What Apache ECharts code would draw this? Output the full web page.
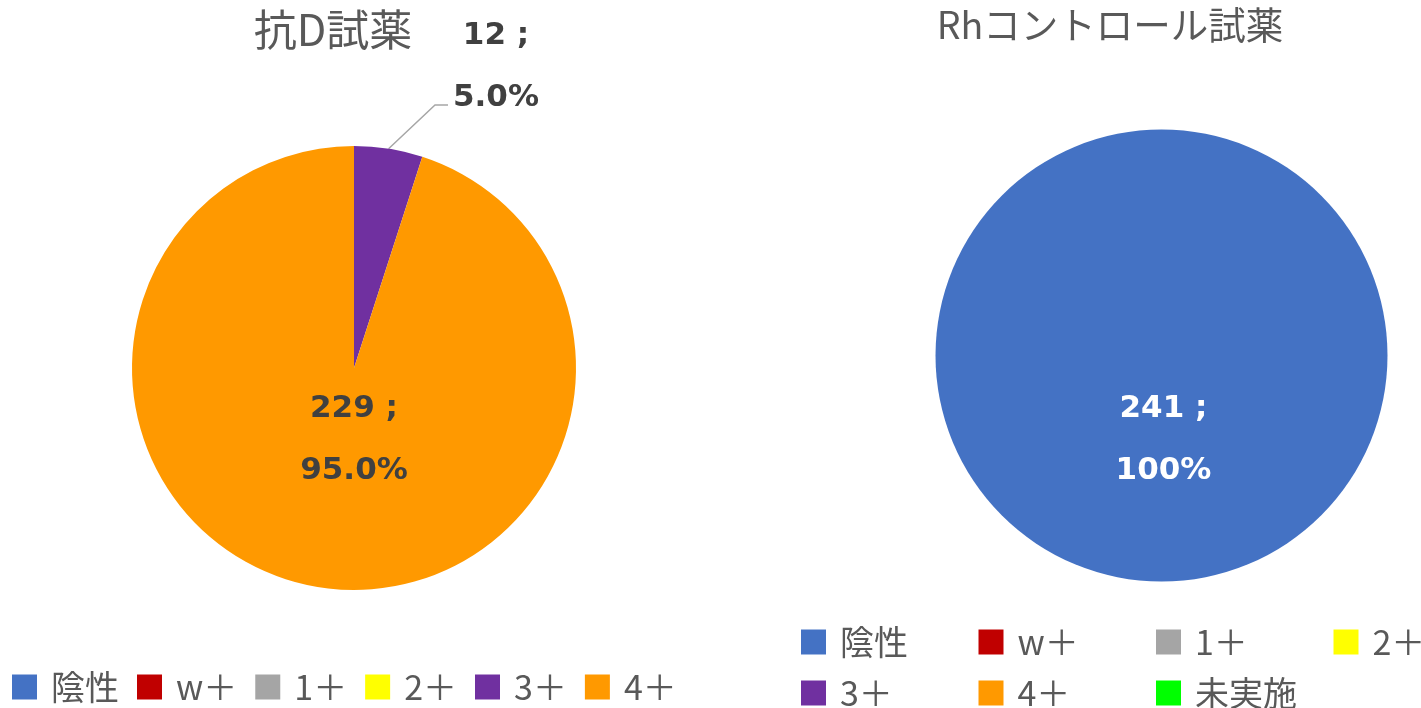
<!DOCTYPE html>
<html>
<head>
<meta charset="utf-8">
<script src="https://cdn.jsdelivr.net/npm/echarts@6/dist/echarts.min.js"></script>
<style>
    html, body { margin: 0; padding: 0; background: #fff; }
    #chart { width: 1421px; height: 708px; }
</style>
</head>
<body>
<div id="chart"></div>
<script>
// data
const categories = ['陰性', 'w＋', '1＋', '2＋', '3＋', '4＋', '未実施']
const categoryColors = ['#4472C4', '#C00000', '#A5A5A5', '#FFFF00', '#7030A0', '#FF9900', '#00FF00']
const antiDValues = [0, 0, 0, 0, 12, 229]
const rhControlValues = [241, 0, 0, 0, 0, 0, 0]
const chartTitles = ['抗D試薬', 'Rhコントロール試薬']

const cjkFont = '"Noto Sans CJK JP", "Noto Sans", sans-serif'
const numFont = '"DejaVu Sans", Verdana, sans-serif'

function pctText(p) {
    return p === 100 ? '100%' : p.toFixed(1) + '%'
}

function buildData(values, insideColor) {
    const total = values.reduce((a, b) => a + b, 0)
    return values.map((v, i) => {
        const small = v / total < 0.1
        return {
            name: categories[i],
            value: v,
            itemStyle: { color: categoryColors[i] },
            label: {
                show: v > 0,
                position: small ? 'outside' : 'center',
                color: small ? '#404040' : insideColor
            },
            labelLine: { show: v > 0 && small }
        }
    })
}

const pieLabel = {
    fontFamily: numFont,
    fontWeight: 'bold',
    fontSize: 31,
    lineHeight: 62,
    formatter: p => p.value + ' ;\n' + pctText(p.percent)
}

const legendText = {
    color: '#595959',
    fontFamily: cjkFont,
    fontSize: 34,
    lineHeight: 36
}

function legendBase(names, top, gap, fixedWidth) {
    return {
        data: names,
        left: 801,
        top: top,
        width: 740,
        padding: 0,
        itemWidth: 25,
        itemHeight: 25,
        itemGap: gap,
        icon: 'rect',
        selectedMode: false,
        formatter: '{a|{name}}',
        textStyle: {
            ...legendText,
            rich: { a: { ...legendText, width: fixedWidth, padding: [0, 0, 0, 9] } }
        }
    }
}

const chart = echarts.init(document.getElementById('chart'))
chart.setOption({
    animation: false,
    title: [
        {
            text: chartTitles[0],
            left: 333,
            textAlign: 'center',
            top: 8,
            padding: 0,
            textStyle: { color: '#595959', fontFamily: cjkFont, fontSize: 43, fontWeight: 'normal' }
        },
        {
            text: chartTitles[1],
            left: 1110,
            textAlign: 'center',
            top: 6,
            padding: 0,
            textStyle: { color: '#595959', fontFamily: cjkFont, fontSize: 37.5, fontWeight: 'normal' }
        }
    ],
    legend: [
        { ...legendBase(categories.slice(0, 6), 669, 18), left: 12, width: 720 },
        legendBase(categories.slice(0, 4), 624, 0, 138.5),
        legendBase(categories.slice(4), 675, 0, 138.5)
    ],
    series: [
        {
            name: chartTitles[0],
            type: 'pie',
            center: [354, 368],
            radius: 222,
            startAngle: 90,
            avoidLabelOverlap: false,
            label: pieLabel,
            labelLine: {
                length: 40,
                length2: 12,
                lineStyle: { color: '#A6A6A6', width: 1.5 }
            },
            labelLayout: p => {
                if (p.dataIndex === 4) {
                    // keep the anchor on the slice, bend into the lower line of the label
                    const lx = 496
                    const ly = 67
                    const anchor = p.labelLinePoints[0]
                    const endX = lx - p.labelRect.width / 2 - 5
                    const endY = ly + p.labelRect.height / 2 - 24
                    return {
                        x: lx,
                        y: ly,
                        align: 'center',
                        verticalAlign: 'middle',
                        labelLinePoints: [anchor, [endX - 13, endY], [endX, endY]]
                    }
                }
                return { dy: 72 }
            },
            emphasis: { disabled: true },
            data: buildData(antiDValues, '#404040')
        },
        {
            name: chartTitles[1],
            type: 'pie',
            center: [1161.5, 355.5],
            radius: 226,
            startAngle: 90,
            avoidLabelOverlap: false,
            label: pieLabel,
            labelLayout: { dx: 2, dy: 84 },
            emphasis: { disabled: true },
            data: buildData(rhControlValues, '#FFFFFF')
        }
    ]
})
</script>
</body>
</html>
